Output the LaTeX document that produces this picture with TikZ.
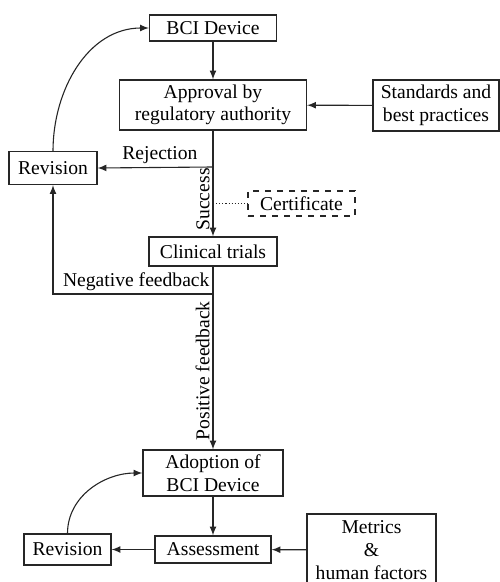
\documentclass[tikz,border=0pt]{standalone}
\usepackage{fontspec}
\setmainfont{Liberation Serif}

\begin{document}
\begin{tikzpicture}[x=0.5pt, y=-0.5pt, font=\fontsize{9.8pt}{11.3pt}\selectfont,
  stage/.style={draw=black!85, line width=0.55pt, align=center, inner sep=0pt},
  link/.style={->, >=latex, draw=black!85, line width=0.55pt}]

\useasboundingbox (0,0) rectangle (499,582);

% Boxes of the approval stage
\node [stage, minimum width=63.5pt, minimum height=13pt] (bci) at (213,28) {BCI Device};
\node [stage, minimum width=93.5pt, minimum height=25pt] (approval) at (213,105) {Approval by\\regulatory authority};
\node [stage, minimum width=63pt, minimum height=25.5pt] (standards) at (436,105.5) {Standards and\\best practices};
\node [stage, minimum width=44pt, minimum height=16.5pt] (revtop) at (53,168) {Revision};
\node [stage, dashed, minimum width=53.5pt, minimum height=12.5pt] (cert) at (301.5,203.5) {Certificate};
\node [stage, minimum width=64pt, minimum height=14.5pt] (clinical) at (213,251.5) {Clinical trials};

% Boxes of the adoption stage
\node [stage, minimum width=70pt, minimum height=23pt] (adoption) at (213,473) {Adoption of\\BCI Device};
\node [stage, minimum width=58pt, minimum height=13.5pt] (assess) at (213,549.5) {Assessment};
\node [stage, minimum width=43.5pt, minimum height=15.5pt] (revbot) at (67.5,549.5) {Revision};
\node [stage, minimum width=64.5pt, minimum height=36pt] (metrics) at (371.5,550) {Metrics\\\&\\human factors};

% Branch points on the main line
\coordinate (reject) at (213,167);
\coordinate (certpt) at (213,203.5);
\coordinate (negative) at (213,294);

% Connectors
\draw [link] (bci) -- (approval);
\draw [link] (standards) -- (approval);
\draw [link] (approval) -- (clinical)
  node [pos=0.65, rotate=90, anchor=south, inner sep=1.5pt] {Success};
\draw [link] (reject) -- (revtop.east) node [pos=0.46, above, inner sep=1.5pt] {Rejection};
\draw [densely dotted, draw=black!85, line width=0.55pt] (certpt) -- (cert);
\draw [link] (negative) -| (revtop.south)
  node [pos=0, anchor=south east, inner sep=1.5pt] {Negative feedback};
\draw [link] (revtop.north) to [out=90, in=180] (bci.west);
\draw [link] (clinical) -- (adoption)
  node [pos=0.57, rotate=90, anchor=south, inner sep=1.5pt] {Positive feedback};
\draw [link] (adoption) -- (assess);
\draw [link] (metrics) -- (assess);
\draw [link] (assess) -- (revbot);
\draw [link] (revbot.north) to [out=90, in=180] (adoption.west);

\end{tikzpicture}
\end{document}
